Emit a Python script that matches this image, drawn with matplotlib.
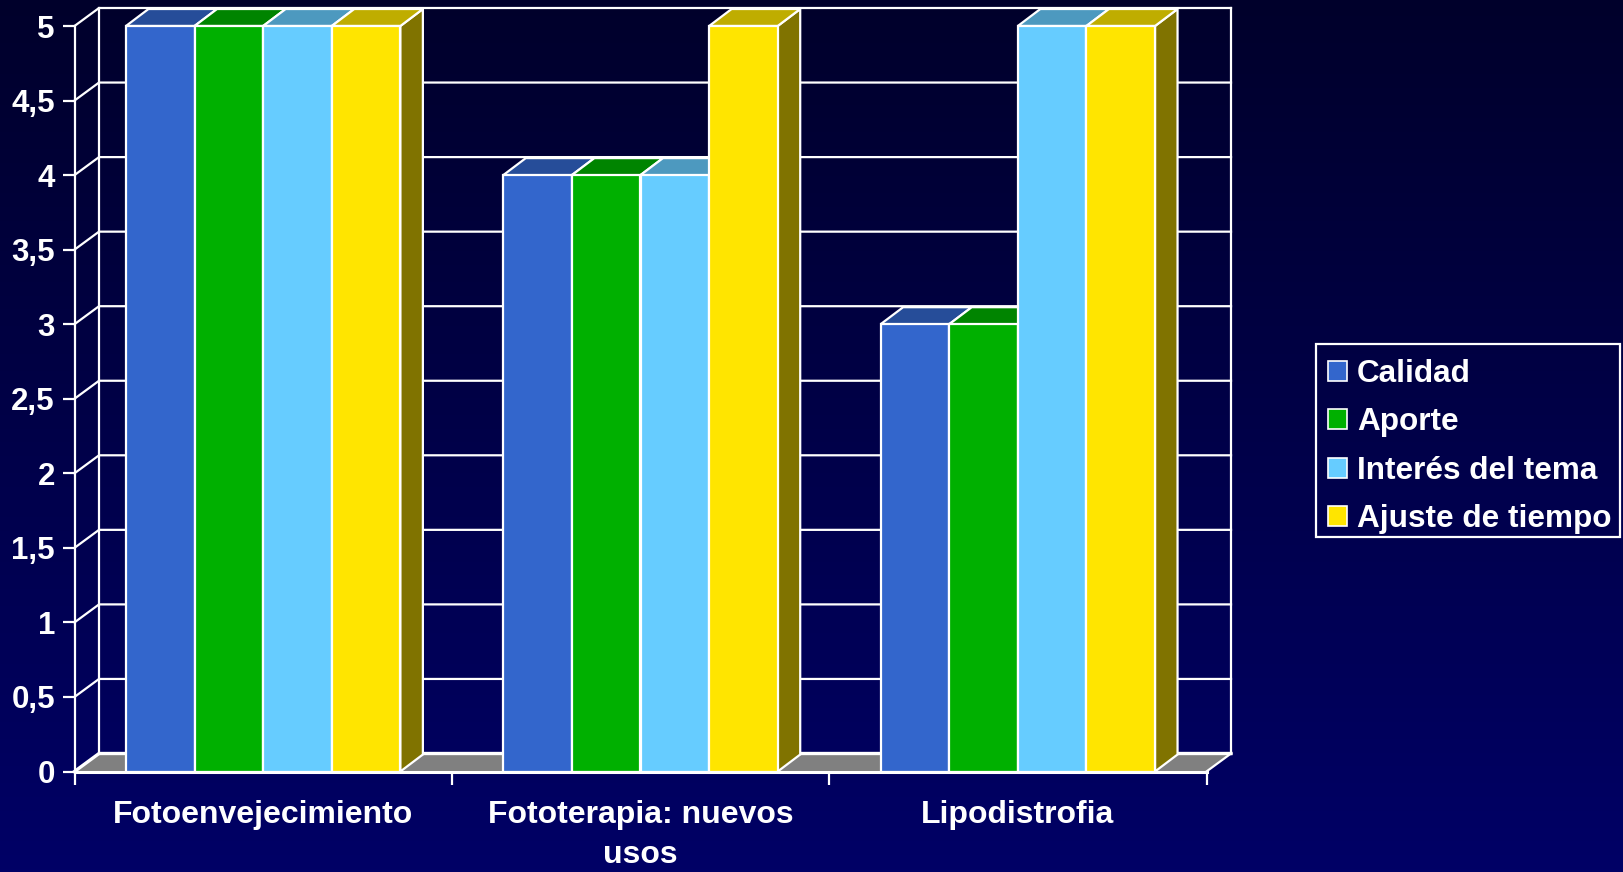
import numpy as np
import matplotlib
matplotlib.use('Agg')
import matplotlib.pyplot as plt
from matplotlib.patches import Patch, Rectangle

plt.rcParams['font.family'] = ['Liberation Sans', 'DejaVu Sans']
plt.rcParams['font.weight'] = 'bold'

categories = ['Fotoenvejecimiento', 'Fototerapia: nuevos\nusos', 'Lipodistrofia']
series = ['Calidad', 'Aporte', 'Interés del tema', 'Ajuste de tiempo']
calidad = [5, 4, 3]
aporte = [5, 4, 3]
interes = [5, 4, 5]
ajuste = [5, 5, 5]
yticks = [0, 0.5, 1, 1.5, 2, 2.5, 3, 3.5, 4, 4.5, 5]
ylabels = ['0', '0,5', '1', '1,5', '2', '2,5', '3', '3,5', '4', '4,5', '5']

front_colors = ['#3366CC', '#00B000', '#66CCFF', '#FFE500']
top_colors = ['#264D99', '#008400', '#4D99BF', '#BFAD00']
side_colors = ['#1A3366', '#005800', '#336680', '#807300']

W, H = 1623, 872
fig = plt.figure(figsize=(W / 100, H / 100), dpi=100)

# background gradient
bg = fig.add_axes([0, 0, 1, 1], zorder=-1)
grad = np.linspace(0, 1, 256).reshape(-1, 1)
cmap = matplotlib.colors.LinearSegmentedColormap.from_list('bg', ['#00002B', '#000066'])
bg.imshow(grad, aspect='auto', cmap=cmap)
bg.axis('off')

# axes covers the front plane of the 3d box
x0, x1, y_top, y_bot = 74.5, 1206.5, 26, 771.5
ax = fig.add_axes([x0 / W, 1 - y_bot / H, (x1 - x0) / W, (y_bot - y_top) / H])
ax.patch.set_visible(False)
ax.set_xlim(0, 3)
ax.set_ylim(0, 5)

# depth of the walls and bars, in data units
wall_dx, wall_dy = 24.5 / 377.3, 18 / 149.1
bar_dx, bar_dy = 22.5 / 377.3, 17 / 149.1
lw = 1.6

# floor, back wall, grid
ax.fill([0, 3, 3 + wall_dx, wall_dx], [0, 0, wall_dy, wall_dy], color='#808080', lw=0, clip_on=False, zorder=1)
for v in yticks:
    ax.plot([0, wall_dx, 3 + wall_dx], [v, v + wall_dy, v + wall_dy], color='white',
            lw=2.4 if v == 0 else lw, clip_on=False, zorder=2, solid_joinstyle='miter')
ax.plot([wall_dx, wall_dx], [wall_dy, 5 + wall_dy], color='white', lw=lw, clip_on=False, zorder=2)
ax.plot([3 + wall_dx, 3 + wall_dx], [wall_dy, 5 + wall_dy], color='white', lw=lw, clip_on=False, zorder=2)
ax.plot([3, 3 + wall_dx], [0, wall_dy], color='white', lw=lw, clip_on=False, zorder=2)

# bars
bar_w = 1 / 5.5
z = 3
for c in range(3):
    for i, vals in enumerate([calidad, aporte, interes, ajuste]):
        left = c + 1.5 / 2 * bar_w + i * bar_w
        v = vals[c]
        r = left + bar_w
        ax.fill([r, r + bar_dx, r + bar_dx, r], [0, bar_dy, v + bar_dy, v], facecolor=side_colors[i],
                edgecolor='white', lw=lw, clip_on=False, zorder=z)
        ax.fill([left, r, r + bar_dx, left + bar_dx], [v, v, v + bar_dy, v + bar_dy], facecolor=top_colors[i],
                edgecolor='white', lw=lw, clip_on=False, zorder=z)
        ax.bar(left, v, width=bar_w, align='edge', color=front_colors[i], edgecolor='white', lw=lw,
               clip_on=False, zorder=z + 1)
        z += 2

for s in ['top', 'right']:
    ax.spines[s].set_visible(False)
for s in ['left', 'bottom']:
    ax.spines[s].set_color('white')
    ax.spines[s].set_zorder(50)
ax.spines['left'].set_linewidth(lw)
ax.spines['bottom'].set_linewidth(2.2)

ax.set_yticks(yticks)
ax.set_yticklabels(ylabels)
ax.tick_params(axis='y', colors='white', length=8.6, width=lw, pad=5.5, labelsize=22.5)
ax.set_xticks([0, 1, 2, 3])
ax.set_xticklabels([])
ax.tick_params(axis='x', which='major', colors='white', length=9.5, width=lw)
ax.set_xticks([0.5, 1.5, 2.5], minor=True)
ax.set_xticklabels(categories, minor=True, fontsize=23, color='white', linespacing=1.43)
ax.tick_params(axis='x', which='minor', length=0, pad=20.5)

# legend box drawn on its own, the text sits a bit low inside it
fig.add_artist(Rectangle((1316 / W, 1 - 536.5 / H), 304 / W, 192.5 / H, transform=fig.transFigure,
                         fill=False, edgecolor='white', lw=lw))
handles = [Patch(facecolor=c, edgecolor='white', lw=1.2, label=s) for c, s in zip(front_colors, series)]
leg = fig.legend(handles=handles, loc='upper left', bbox_to_anchor=(1328 / W, 1 - 359 / H), borderaxespad=0,
                 fontsize=22.7, frameon=False, handlelength=0.6, handleheight=0.6, handletextpad=0.32,
                 labelspacing=0.584, borderpad=0, labelcolor='white')

fig.savefig('out.png', dpi=100)
